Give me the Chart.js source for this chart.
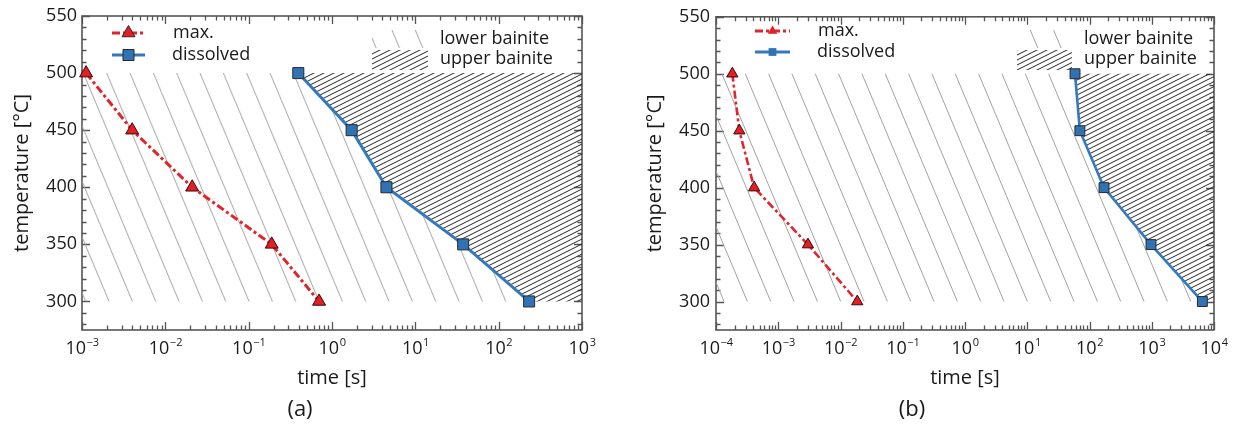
<!DOCTYPE html>
<html>
<head>
<meta charset="utf-8">
<script src="https://cdn.jsdelivr.net/npm/chart.js@4.4.1/dist/chart.umd.min.js"></script>
<style>
  body { margin: 0; background: #fff; }
  #wrap { display: flex; width: 1234px; height: 426px; }
  canvas { display: block; }
</style>
</head>
<body>
<div id="wrap">
  <canvas id="chartA" width="617" height="426"></canvas>
  <canvas id="chartB" width="617" height="426"></canvas>
</div>
<script>
// valeurs
const temps = [500, 450, 400, 350, 300];
const maxTimeA = [0.00112, 0.0040, 0.021, 0.189, 0.70];
const dissolvedTimeA = [0.394, 1.72, 4.5, 37.5, 232];
const maxTimeB = [0.000183, 0.000237, 0.00041, 0.0030, 0.0186];
const dissolvedTimeB = [58.5, 70, 171, 972, 6500];

const yTicks = [300, 350, 400, 450, 500, 550];
const xExpA = [-3, -2, -1, 0, 1, 2, 3];
const xExpB = [-4, -3, -2, -1, 0, 1, 2, 3, 4];

const bainiteTop = 500;
const bainiteBottom = 300;

const RED = '#e0262c';
const BLUE = '#3479bd';
const TEXT = '#1a1a1a';
const AXIS = '#555';

Chart.defaults.font.family = 'Open Sans';
Chart.defaults.color = TEXT;

// hachures "lower bainite" (traits fins gris, pente raide)
function sparseHatch(dx) {
  const c = document.createElement('canvas');
  c.width = 70; c.height = 167;
  const g = c.getContext('2d');
  g.strokeStyle = '#a2a2a2';
  g.lineWidth = 1;
  for (let k = -4; k <= 4; k++) {
    const x0 = k * 70 / 3;
    g.beginPath(); g.moveTo(x0, 0); g.lineTo(x0 + 70, 167); g.stroke();
  }
  const p = g.createPattern(c, 'repeat');
  p.setTransform(new DOMMatrix().translate(dx, 0));
  return p;
}

// hachures "upper bainite" (traits serrés noirs)
function denseHatch() {
  const c = document.createElement('canvas');
  c.width = 10; c.height = 5;
  const g = c.getContext('2d');
  g.strokeStyle = '#262626';
  g.lineWidth = 1;
  [0, 5, 10].forEach(off => {
    g.beginPath(); g.moveTo(-2, off + 1); g.lineTo(12, off - 6); g.stroke();
  });
  return g.createPattern(c, 'repeat');
}

function pts(times) {
  return times.map((t, i) => ({ x: t, y: temps[i] }));
}

function framePlugin(cfg) {
  return {
    id: 'frame' + cfg.id,
    beforeDatasetsDraw(chart) {
      const { ctx, chartArea: a, scales: { x, y } } = chart;
      ctx.save();
      ctx.strokeStyle = AXIS;
      ctx.lineWidth = 1.3;
      ctx.beginPath();
      // graduations y (intérieures, gauche et droite)
      for (let v = 280; v <= 550; v += 10) {
        const py = Math.round(y.getPixelForValue(v)) + 0.5;
        const len = v % 50 === 0 ? 8 : 4.5;
        ctx.moveTo(a.left, py); ctx.lineTo(a.left + len, py);
        ctx.moveTo(a.right, py); ctx.lineTo(a.right - len, py);
      }
      // graduations x log
      cfg.exps.forEach(e => {
        for (let m = 1; m <= 9; m++) {
          const v = m * Math.pow(10, e);
          if (v > cfg.xmax * 1.0001) break;
          const px = Math.round(x.getPixelForValue(v)) + 0.5;
          const len = m === 1 ? 8 : 4.5;
          ctx.moveTo(px, a.bottom); ctx.lineTo(px, a.bottom - len);
          ctx.moveTo(px, a.top); ctx.lineTo(px, a.top + len);
        }
      });
      ctx.stroke();
      ctx.lineWidth = 1.6;
      ctx.strokeRect(a.left, a.top, a.right - a.left, a.bottom - a.top);
      ctx.restore();
    },
    afterDraw(chart) {
      const { ctx, chartArea: a, scales: { x } } = chart;
      ctx.save();
      ctx.fillStyle = TEXT;
      ctx.textBaseline = 'alphabetic';
      // étiquettes 10^n
      cfg.exps.forEach(e => {
        const px = x.getPixelForValue(Math.pow(10, e));
        const sup = e < 0 ? '\u2212' + (-e) : String(e);
        ctx.font = '18px "Open Sans"';
        const w1 = ctx.measureText('10').width;
        ctx.font = '11px "Open Sans"';
        const w2 = ctx.measureText(sup).width;
        const x0 = px - (w1 + w2) / 2;
        ctx.font = '18px "Open Sans"';
        ctx.fillText('10', x0, a.bottom + 24);
        ctx.font = '11px "Open Sans"';
        ctx.fillText(sup, x0 + w1 + 0.5, a.bottom + 16);
      });

      // légende gauche
      const L = cfg.legL;
      ctx.textBaseline = 'middle';
      ctx.font = '18px "Open Sans"';
      const rows = [
        { y: L.y1, color: RED, dash: [8, 3, 3, 3], style: 'triangle', r: L.tri, fill: '#e31e24', text: 'max.', tx: L.tx },
        { y: L.y2, color: BLUE, dash: [], style: 'rect', r: L.sq, fill: '#2f73b4', text: 'dissolved', tx: L.tx - 1 }
      ];
      rows.forEach(row => {
        ctx.strokeStyle = row.color;
        ctx.lineWidth = 3;
        ctx.setLineDash(row.dash);
        ctx.beginPath();
        ctx.moveTo(a.left + L.x0, row.y); ctx.lineTo(a.left + L.x1, row.y);
        ctx.stroke();
        ctx.setLineDash([]);
        ctx.fillStyle = row.fill;
        ctx.strokeStyle = '#2a2a2a';
        ctx.lineWidth = 1;
        Chart.helpers.drawPoint(ctx, { pointStyle: row.style, radius: row.r, borderWidth: L.bw, rotation: 0 },
          a.left + (L.x0 + L.x1) / 2, row.y);
        ctx.fillStyle = TEXT;
        ctx.fillText(row.text, a.left + row.tx, row.y);
      });

      // légende droite (hachures)
      const R = cfg.legR;
      const px0 = a.right + R.p0, px1 = a.right + R.p1;
      ctx.fillStyle = cfg.sparse;
      ctx.fillRect(px0, 30, px1 - px0, 18);
      ctx.fillStyle = cfg.dense;
      ctx.fillRect(px0, 50, px1 - px0, 20);
      ctx.fillStyle = TEXT;
      ctx.font = '18px "Open Sans"';
      ctx.fillText('lower bainite', a.right + R.tx, 39);
      ctx.fillText('upper bainite', a.right + R.tx, 59);

      // repère du panneau
      ctx.font = '22px "Open Sans"';
      ctx.textAlign = 'center';
      ctx.fillText(cfg.panel, cfg.panelX, 410);
      ctx.restore();
    }
  };
}

function makeChart(cfg) {
  const sparse = sparseHatch(cfg.hatchDx);
  const dense = denseHatch();
  cfg.sparse = sparse;
  cfg.dense = dense;
  const diss = pts(cfg.dissolved);
  return new Chart(document.getElementById(cfg.id), {
    type: 'line',
    data: {
      datasets: [
        {
          label: 'max.',
          data: pts(cfg.max),
          borderColor: RED,
          borderWidth: cfg.lw,
          borderDash: [8, 3, 3, 3],
          pointStyle: 'triangle',
          pointRadius: cfg.triR,
          pointBackgroundColor: '#e31e24',
          pointBorderColor: '#3a0a0a',
          pointBorderWidth: 1,
          fill: false,
          clip: false
        },
        {
          label: 'dissolved',
          data: diss,
          borderColor: BLUE,
          borderWidth: cfg.lw,
          pointStyle: 'rect',
          pointRadius: cfg.sqR,
          pointBackgroundColor: '#2f73b4',
          pointBorderColor: '#2a2a2a',
          pointBorderWidth: 1,
          fill: false,
          clip: false
        },
        {
          label: 'upper bainite',
          data: diss.concat([{ x: cfg.xmax, y: bainiteBottom }]),
          borderWidth: 0,
          pointRadius: 0,
          backgroundColor: dense,
          fill: { value: bainiteTop }
        },
        {
          label: 'lower bainite',
          data: [{ x: cfg.xmin, y: bainiteTop }].concat(diss),
          borderWidth: 0,
          pointRadius: 0,
          backgroundColor: sparse,
          fill: { value: bainiteBottom }
        }
      ]
    },
    options: {
      responsive: false,
      animation: false,
      devicePixelRatio: 1,
      layout: { padding: { left: cfg.padLeft, right: cfg.padRight, top: 16, bottom: 0 } },
      plugins: { legend: { display: false }, tooltip: { enabled: false } },
      elements: { line: { tension: 0 } },
      scales: {
        x: {
          type: 'logarithmic',
          min: cfg.xmin,
          max: cfg.xmax,
          grid: { display: false, drawTicks: false },
          border: { display: false },
          ticks: { display: false },
          title: { display: true, text: 'time [s]', font: { size: 20 }, color: TEXT, padding: { top: 0, bottom: 36 } },
          afterFit: s => { s.height = 96; }
        },
        y: {
          min: 275,
          max: 550,
          grid: { display: false, drawTicks: false },
          border: { display: false },
          afterBuildTicks: s => { s.ticks = yTicks.map(v => ({ value: v })); },
          ticks: { font: { size: 18 }, color: TEXT, padding: cfg.tickPad },
          title: { display: true, text: 'temperature [°C]', font: { size: 20 }, color: TEXT, padding: { top: 10, bottom: 0 } },
          afterFit: s => { s.width = cfg.yWidth; }
        }
      }
    },
    plugins: [framePlugin(cfg)]
  });
}

makeChart({
  id: 'chartA', max: maxTimeA, dissolved: dissolvedTimeA, exps: xExpA,
  xmin: 1e-3, xmax: 1e3, padLeft: 0, yWidth: 82, padRight: 35, tickPad: 5,
  lw: 3, triR: 7.5, sqR: 7.8, hatchDx: 6.1,
  legL: { x0: 30, x1: 63, tx: 91, y1: 33, y2: 55, tri: 7.5, sq: 7.8, bw: 1 },
  legR: { p0: -210, p1: -154, tx: -142 },
  panel: '(a)', panelX: 300
});

makeChart({
  id: 'chartB', max: maxTimeB, dissolved: dissolvedTimeB, exps: xExpB,
  xmin: 1e-4, xmax: 1e4, padLeft: 16, yWidth: 83, padRight: 20, tickPad: 6,
  lw: 2.6, triR: 6.5, sqR: 7, hatchDx: 4.0,
  legL: { x0: 39, x1: 74, tx: 102, y1: 31, y2: 52, tri: 5.5, sq: 5.5, bw: 0 },
  legR: { p0: -197, p1: -142, tx: -130 },
  panel: '(b)', panelX: 295
});
</script>
</body>
</html>
